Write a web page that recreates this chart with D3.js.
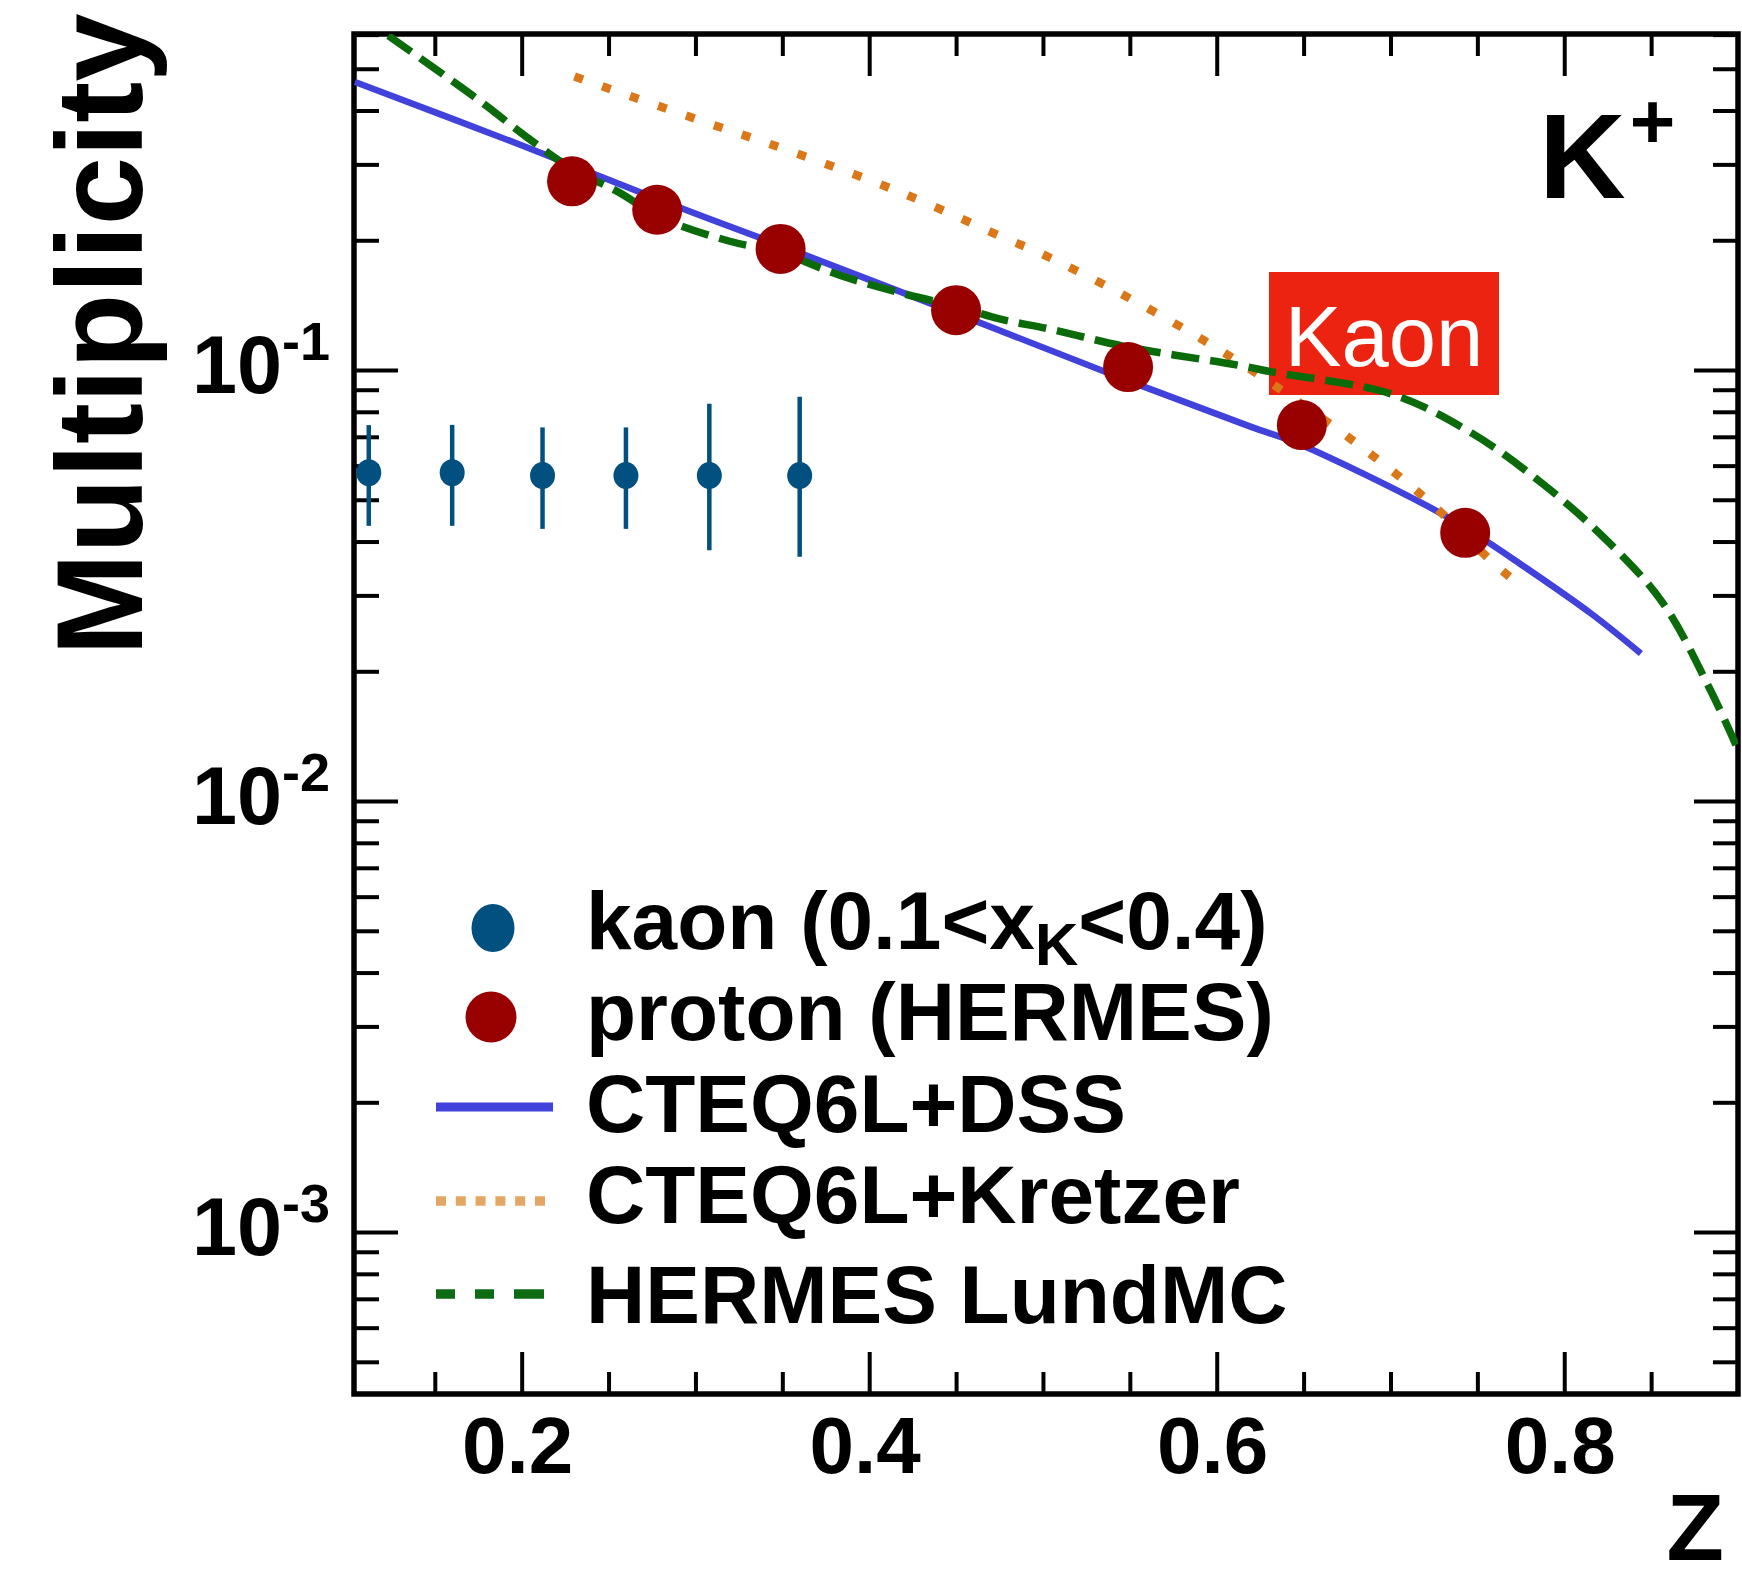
<!DOCTYPE html>
<html><head><meta charset="utf-8">
<script src="https://cdn.jsdelivr.net/npm/d3@7"></script>
<style>html,body{margin:0;padding:0;background:#fff;} svg{display:block;}</style>
</head><body>
<script>
// ---------- data ----------
const protonZ = [0.229, 0.278, 0.349, 0.450, 0.549, 0.649, 0.743];
const protonV = [0.274, 0.2354, 0.191, 0.1377, 0.1016, 0.0745, 0.0419];

const kaonZ  = [0.112, 0.160, 0.212, 0.260, 0.308, 0.360];
const kaonV  = [0.0578, 0.0578, 0.0569, 0.0569, 0.0569, 0.0569];
const kaonHi = [0.0745, 0.0746, 0.0736, 0.0736, 0.0835, 0.0867];
const kaonLo = [0.0435, 0.0435, 0.0428, 0.0428, 0.0382, 0.0369];

const dssZ = [0.104, 0.2035, 0.2806, 0.3489, 0.4496, 0.5486, 0.619, 0.6477, 0.7203, 0.743, 0.7733, 0.8156, 0.8441];
const dssV = [0.466, 0.328, 0.247, 0.1945, 0.1355, 0.0946, 0.0740, 0.0673, 0.0486, 0.0431, 0.0358, 0.0272, 0.0220];

const kretzerZ = [0.2304, 0.3063, 0.3577, 0.4195, 0.4804, 0.4978, 0.5418, 0.5867, 0.6153, 0.6439, 0.6848, 0.723, 0.7598, 0.772];
const kretzerV = [0.4797, 0.375, 0.3188, 0.257, 0.2004, 0.1872, 0.1527, 0.121, 0.1028, 0.0861, 0.0656, 0.0492, 0.0355, 0.0323];

const lundZ = [0.1233, 0.1519, 0.1778, 0.2035, 0.2285, 0.255, 0.2806, 0.3192, 0.3489, 0.3834, 0.422, 0.4496, 0.475, 0.5038, 0.5486, 0.6112, 0.633, 0.7011, 0.7473, 0.7882, 0.8238, 0.8565, 0.8838, 0.8988];
const lundV = [0.5964, 0.4944, 0.4157, 0.3456, 0.2936, 0.2597, 0.2253, 0.1992, 0.1872, 0.1657, 0.1495, 0.1408, 0.1314, 0.1245, 0.1131, 0.1028, 0.0988, 0.0878, 0.0712, 0.0542, 0.0405, 0.0289, 0.0182, 0.0135];

const xMajorTicks = [0.2, 0.4, 0.6, 0.8];
const xTickLabels = ["0.2", "0.4", "0.6", "0.8"];
const xMinorTicks = [0.15, 0.25, 0.3, 0.35, 0.45, 0.5, 0.55, 0.65, 0.7, 0.75, 0.85];
const yMajorTicks = [1e-1, 1e-2, 1e-3];
const yTickBase = ["10", "10", "10"];
const yTickExp = ["-1", "-2", "-3"];

const legendLabels = ["kaon", "proton (HERMES)", "CTEQ6L+DSS", "CTEQ6L+Kretzer", "HERMES LundMC"];

// ---------- layout ----------
const W = 1742, H = 1570;
const L = 354, R = 1738, T = 34, B = 1394;
const BOLD = "'Liberation Sans', Arial, Helvetica, sans-serif";

const x = d3.scaleLinear().domain([0.1035, 0.9]).range([L, R]);
const y = d3.scaleLog().domain([4.21e-4, 0.602]).range([B, T]);

const svg = d3.select("body").append("svg").attr("width", W).attr("height", H)
  .style("background", "#fff");

svg.append("defs").append("clipPath").attr("id", "clip")
  .append("rect").attr("x", L).attr("y", T).attr("width", R - L).attr("height", B - T);

// minor y ticks
const yMinor = [];
[-4, -3, -2, -1].forEach(e => { for (let k = 2; k <= 9; k++) { const v = k * Math.pow(10, e); if (v > 4.21e-4 && v < 0.602) yMinor.push(v); } });

function styleAxis(g) {
  g.select(".domain").remove();
  g.selectAll(".tick text").remove();
  g.selectAll(".tick line").attr("stroke", "#000").attr("stroke-width", 4);
}
svg.append("g").attr("transform", `translate(0,${B})`).call(d3.axisBottom(x).tickValues(xMajorTicks).tickSize(-42)).call(styleAxis);
svg.append("g").attr("transform", `translate(0,${B})`).call(d3.axisBottom(x).tickValues(xMinorTicks).tickSize(-22)).call(styleAxis);
svg.append("g").attr("transform", `translate(0,${T})`).call(d3.axisTop(x).tickValues(xMajorTicks).tickSize(-42)).call(styleAxis);
svg.append("g").attr("transform", `translate(0,${T})`).call(d3.axisTop(x).tickValues(xMinorTicks).tickSize(-22)).call(styleAxis);
svg.append("g").attr("transform", `translate(${L},0)`).call(d3.axisLeft(y).tickValues(yMajorTicks).tickSize(-44)).call(styleAxis);
svg.append("g").attr("transform", `translate(${L},0)`).call(d3.axisLeft(y).tickValues(yMinor).tickSize(-25)).call(styleAxis);
svg.append("g").attr("transform", `translate(${R},0)`).call(d3.axisRight(y).tickValues(yMajorTicks).tickSize(-44)).call(styleAxis);
svg.append("g").attr("transform", `translate(${R},0)`).call(d3.axisRight(y).tickValues(yMinor).tickSize(-25)).call(styleAxis);

// frame
svg.append("rect").attr("x", L).attr("y", T).attr("width", R - L).attr("height", B - T)
  .attr("fill", "none").attr("stroke", "#000").attr("stroke-width", 5.5);

// x tick labels
svg.append("g").selectAll("text").data(xMajorTicks).join("text")
  .attr("x", d => x(d) - 4).attr("y", 1473)
  .attr("text-anchor", "middle").attr("font-family", BOLD).attr("font-weight", "bold")
  .attr("font-size", 80).text((d, i) => xTickLabels[i]);

// y tick labels
const yl = svg.append("g").selectAll("text").data(yMajorTicks).join("text")
  .attr("x", 330).attr("y", d => y(d) + 23)
  .attr("text-anchor", "end").attr("font-family", BOLD).attr("font-weight", "bold")
  .attr("font-size", 81);
yl.append("tspan").text((d, i) => yTickBase[i]);
yl.append("tspan").attr("font-size", 54).attr("dy", -33).text((d, i) => yTickExp[i]);

// axis titles
svg.append("text").attr("transform", "translate(142,334.5) rotate(-90)")
  .attr("text-anchor", "middle").attr("font-family", BOLD).attr("font-weight", "bold")
  .attr("font-size", 123).text("Multiplicity");
svg.append("text").attr("x", 1724).attr("y", 1560).attr("text-anchor", "end")
  .attr("font-family", BOLD).attr("font-weight", "bold").attr("font-size", 94).text("Z");

// K+ label
const kp = svg.append("text").attr("x", 1539).attr("y", 198)
  .attr("font-family", BOLD).attr("font-weight", "bold").attr("font-size", 120);
kp.append("tspan").text("K");
kp.append("tspan").attr("font-size", 78).attr("dy", -50).attr("dx", 4).text("+");

// Kaon red box (under curves)
svg.append("rect").attr("x", 1269).attr("y", 272).attr("width", 230).attr("height", 123).attr("fill", "#ec2310");
svg.append("text").attr("x", 1384).attr("y", 366).attr("text-anchor", "middle")
  .attr("font-family", BOLD).attr("font-size", 85).attr("fill", "#fff").text("Kaon");

// curves
const line = d3.line().x(d => x(d[0])).y(d => y(d[1])).curve(d3.curveCatmullRom.alpha(0.5));
const plot = svg.append("g").attr("clip-path", "url(#clip)");
plot.append("path").datum(dssZ.map((z, i) => [z, dssV[i]])).attr("d", line)
  .attr("fill", "none").attr("stroke", "#4141db").attr("stroke-width", 6.5);
plot.append("path").datum(kretzerZ.map((z, i) => [z, kretzerV[i]])).attr("d", line)
  .attr("fill", "none").attr("stroke", "#da7719").attr("stroke-width", 8.5).attr("stroke-dasharray", "9 20.5");
plot.append("path").datum(lundZ.map((z, i) => [z, lundV[i]])).attr("d", line)
  .attr("fill", "none").attr("stroke", "#0b6b0b").attr("stroke-width", 7.5).attr("stroke-dasharray", "28 11");

// kaon points with error bars
const kp2 = plot.append("g");
kp2.selectAll("line").data(kaonZ).join("line")
  .attr("x1", d => x(d)).attr("x2", d => x(d))
  .attr("y1", (d, i) => y(kaonHi[i])).attr("y2", (d, i) => y(kaonLo[i]))
  .attr("stroke", "#02507f").attr("stroke-width", 4.5);
kp2.selectAll("ellipse").data(kaonZ).join("ellipse")
  .attr("cx", d => x(d)).attr("cy", (d, i) => y(kaonV[i])).attr("rx", 12.5).attr("ry", 13.5)
  .attr("fill", "#02507f");

// proton points
plot.append("g").selectAll("circle").data(protonZ).join("circle")
  .attr("cx", d => x(d)).attr("cy", (d, i) => y(protonV[i])).attr("r", 25)
  .attr("fill", "#990000");

// legend
const lg = svg.append("g");
lg.append("ellipse").attr("cx", 493).attr("cy", 928).attr("rx", 21.5).attr("ry", 24).attr("fill", "#02507f");
lg.append("circle").attr("cx", 491).attr("cy", 1017).attr("r", 25.5).attr("fill", "#990000");
lg.append("line").attr("x1", 436).attr("x2", 553).attr("y1", 1107).attr("y2", 1107)
  .attr("stroke", "#4141db").attr("stroke-width", 9);
lg.append("line").attr("x1", 436).attr("x2", 545).attr("y1", 1201).attr("y2", 1201)
  .attr("stroke", "#e3a665").attr("stroke-width", 9.5).attr("stroke-dasharray", "10 9.8");
lg.append("line").attr("x1", 436).attr("x2", 544).attr("y1", 1294).attr("y2", 1294)
  .attr("stroke", "#0d6b13").attr("stroke-width", 9.5).attr("stroke-dasharray", "19 20 19 20 30");

const legendY = [949, 1040, 1132, 1223, 1323];
const lt = lg.selectAll("text.lt").data(legendLabels).join("text").attr("class", "lt")
  .attr("x", 586).attr("y", (d, i) => legendY[i])
  .attr("font-family", BOLD).attr("font-weight", "bold").attr("font-size", 82);
lt.filter((d, i) => i !== 0).text(d => d);
const first = lt.filter((d, i) => i === 0);
first.append("tspan").text("kaon (0.1<x");
first.append("tspan").attr("font-size", 60).attr("dy", 16).text("K");
first.append("tspan").attr("dy", -16).text("<0.4)");
</script>
</body></html>
